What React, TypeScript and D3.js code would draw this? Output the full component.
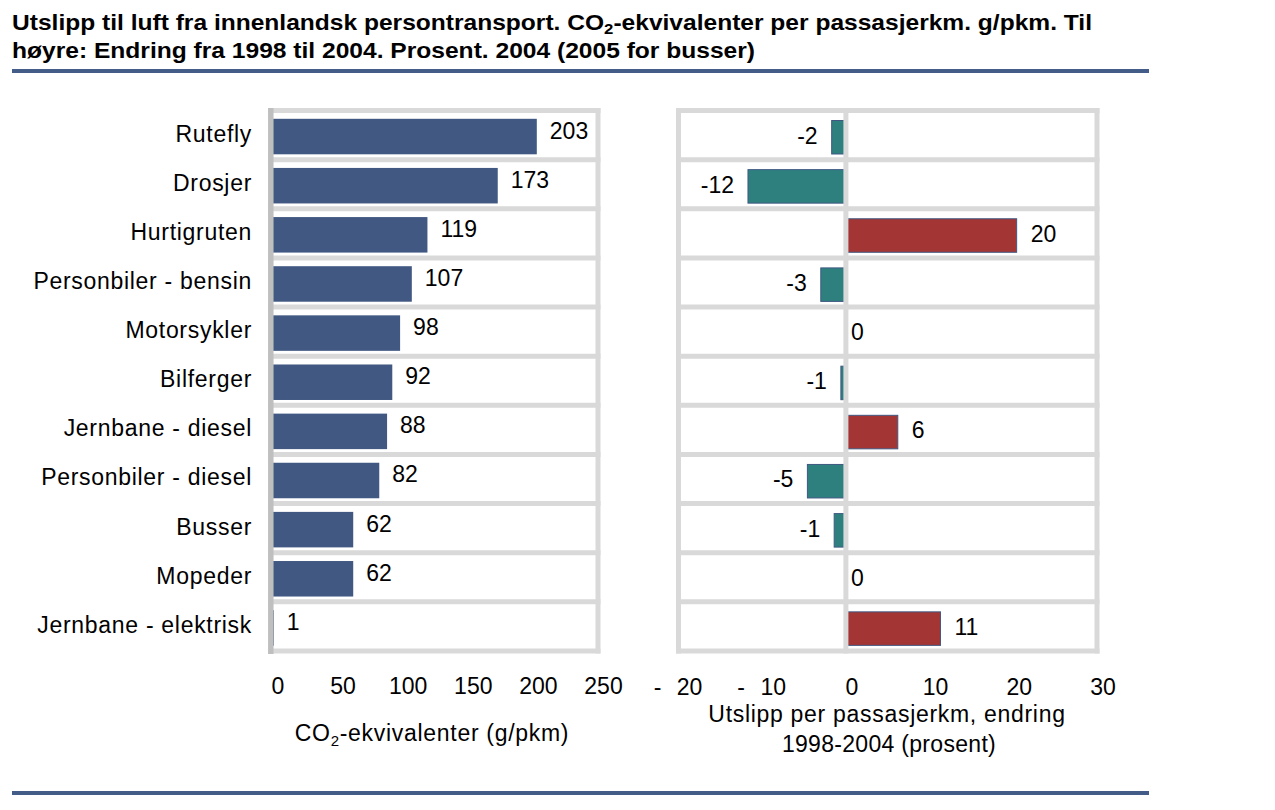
import React from "react";
import * as d3 from "d3";

const categories = [
  "Rutefly",
  "Drosjer",
  "Hurtigruten",
  "Personbiler - bensin",
  "Motorsykler",
  "Bilferger",
  "Jernbane - diesel",
  "Personbiler - diesel",
  "Busser",
  "Mopeder",
  "Jernbane - elektrisk",
];
const emissions = [203, 173, 119, 107, 98, 92, 88, 82, 62, 62, 1];
const changes = [-1.7, -11.7, 20.4, -3.0, 0, -0.6, 6.2, -4.6, -1.4, 0, 11.3];
const leftTicks = [0, 50, 100, 150, 200, 250];
const rightTicks = [-20, -10, 0, 10, 20, 30];

const titleLines = [
  ["Utslipp til luft fra innenlandsk persontransport. CO", "2", "-ekvivalenter per passasjerkm. g/pkm. Til"],
  ["høyre: Endring fra 1998 til 2004. Prosent. 2004 (2005 for busser)"],
];

const FONT = "'Liberation Sans', Arial, sans-serif";
const BLUE = "#405882";
const TEAL = "#2e807f";
const RED = "#a33535";
const GRID = "#d9d9d9";
const AXIS = "#bfbfbf";
const RULE = "#435d88";

export default function App() {
  const W = 1275;
  const H = 810;
  const yBand = d3.scaleBand<string>().domain(categories).range([110.5, 651]).padding(0);
  const step = yBand.step();
  const xL = d3.scaleLinear().domain([0, 250]).range([272.5, 598]);
  const xR = d3.scaleLinear().domain([-20, 30]).range([678.5, 1097]);
  const boundaries = d3.range(categories.length + 1).map((i) => 110.5 + i * step);
  const fs = 23;
  const ls = 0.7;

  return (
    <svg
      width={W}
      height={H}
      style={{ position: "absolute", left: 0, top: 0, background: "#fff" }}
      fontFamily={FONT}
    >
      <rect x={0} y={0} width={W} height={H} fill="#fff" />
      {/* Title */}
      <text x={12} y={30} fontSize={22} fontWeight="bold" fill="#000" textLength={1080} lengthAdjust="spacingAndGlyphs">
        {titleLines[0][0]}
        <tspan fontSize={15} dy={4}>{titleLines[0][1]}</tspan>
        <tspan dy={-4}>{titleLines[0][2]}</tspan>
      </text>
      <text x={12} y={58} fontSize={22} fontWeight="bold" fill="#000" textLength={743} lengthAdjust="spacingAndGlyphs">
        {titleLines[1][0]}
      </text>
      <rect x={12} y={69} width={1137} height={4} fill={RULE} />
      <rect x={12} y={791} width={1137} height={4} fill={RULE} />

      {/* Left chart bars */}
      {categories.map((c, i) => (
        <rect
          key={"lb" + c}
          x={xL(0)}
          y={(yBand(c) as number) + 8.3}
          width={xL(emissions[i]) - xL(0)}
          height={35.5}
          fill={BLUE}
        />
      ))}
      {/* Left grid */}
      {boundaries.map((y, i) => (
        <line key={"lg" + i} x1={268} x2={600.5} y1={y} y2={y} stroke={GRID} strokeWidth={5} />
      ))}
      <line x1={xL(250)} x2={xL(250)} y1={108} y2={653.5} stroke={GRID} strokeWidth={5} />
      <line x1={270.8} x2={270.8} y1={108} y2={654} stroke={AXIS} strokeWidth={5.5} />
      {/* Left labels */}
      {categories.map((c) => (
        <text
          key={"lc" + c}
          x={252}
          y={(yBand(c) as number) + 31}
          fontSize={fs}
          letterSpacing={ls}
          textAnchor="end"
          fill="#000"
        >
          {c}
        </text>
      ))}
      {categories.map((c, i) => (
        <text key={"lv" + c} x={xL(emissions[i]) + 13} y={(yBand(c) as number) + 28} fontSize={fs} fill="#000">
          {emissions[i]}
        </text>
      ))}
      {leftTicks.map((t) => (
        <text key={"lt" + t} x={xL(t) + 5.5} y={694} fontSize={fs} textAnchor="middle" fill="#000">
          {t}
        </text>
      ))}
      <text x={432} y={741} fontSize={fs} letterSpacing={ls} textAnchor="middle" fill="#000">
        CO<tspan fontSize={15} dy={5}>2</tspan>
        <tspan dy={-5}>-ekvivalenter (g/pkm)</tspan>
      </text>

      {/* Right chart bars */}
      {categories.map((c, i) => {
        const v = changes[i];
        if (v === 0) return null;
        const x0 = xR(Math.min(0, v));
        const x1 = xR(Math.max(0, v));
        return (
          <rect
            key={"rb" + c}
            x={x0}
            y={(yBand(c) as number) + 10}
            width={x1 - x0}
            height={33.5}
            fill={v < 0 ? TEAL : RED}
            stroke={BLUE}
            strokeWidth={1}
          />
        );
      })}
      {boundaries.map((y, i) => (
        <line key={"rg" + i} x1={676} x2={1099.5} y1={y} y2={y} stroke={GRID} strokeWidth={5} />
      ))}
      {[-20, 0, 30].map((v) => (
        <line key={"rv" + v} x1={xR(v)} x2={xR(v)} y1={108} y2={653.5} stroke={GRID} strokeWidth={5} />
      ))}
      {categories.map((c, i) => {
        const v = changes[i];
        const r = Math.round(v);
        const label = r === 0 ? "0" : String(r);
        const y = (yBand(c) as number) + 33;
        if (v < 0) {
          return (
            <text key={"rl" + c} x={xR(v) - 14} y={y} fontSize={fs} textAnchor="end" fill="#000">
              {label}
            </text>
          );
        }
        return (
          <text key={"rl" + c} x={xR(v) + (v === 0 ? 5 : 14)} y={y} fontSize={fs} fill="#000">
            {label}
          </text>
        );
      })}
      {rightTicks.map((t) =>
        t < 0 ? (
          <g key={"rt" + t}>
            <text x={xR(t) - 21} y={695} fontSize={fs} textAnchor="middle" fill="#000">-</text>
            <text x={xR(t) + 11} y={695} fontSize={fs} textAnchor="middle" fill="#000">
              {Math.abs(t)}
            </text>
          </g>
        ) : (
          <text key={"rt" + t} x={xR(t) + 6} y={695} fontSize={fs} textAnchor="middle" fill="#000">
            {t}
          </text>
        )
      )}
      <text x={887} y={722} fontSize={fs} letterSpacing={ls} textAnchor="middle" fill="#000">
        Utslipp per passasjerkm, endring
      </text>
      <text x={889} y={752} fontSize={fs} letterSpacing={0.3} textAnchor="middle" fill="#000">
        1998-2004 (prosent)
      </text>
    </svg>
  );
}
